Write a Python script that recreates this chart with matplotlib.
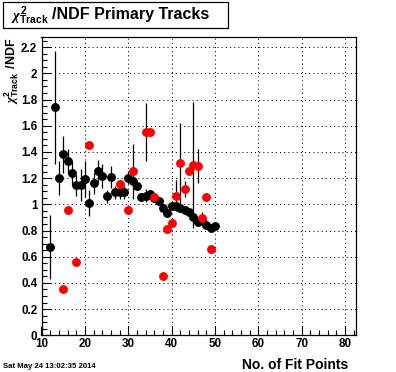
import matplotlib
matplotlib.use('Agg')
import matplotlib.pyplot as plt
from matplotlib.patches import Rectangle
from matplotlib.ticker import MultipleLocator, FuncFormatter

plt.rcParams['font.family'] = ['Liberation Sans', 'DejaVu Sans']
plt.rcParams['font.weight'] = 'bold'
plt.rcParams['mathtext.fontset'] = 'custom'
plt.rcParams['mathtext.rm'] = 'Liberation Sans:bold'
plt.rcParams['mathtext.bf'] = 'Liberation Sans:bold'
plt.rcParams['mathtext.it'] = 'Liberation Serif:italic'

# black series (all tracks)
x_blk = [12, 13, 14, 15, 16, 17, 18, 19, 20, 21, 22, 23, 24, 25, 26, 27, 28, 29, 30,
         31, 32, 33, 34, 35, 36, 37, 38, 39, 40, 41, 42, 43, 44, 45, 46, 47, 48, 49, 50]
y_blk = [0.672, 1.740, 1.203, 1.381, 1.331, 1.241, 1.147, 1.147, 1.193, 1.008, 1.160,
         1.257, 1.218, 1.063, 1.211, 1.093, 1.093, 1.093, 1.203, 1.180, 1.140, 1.058,
         1.065, 1.078, 1.050, 1.025, 0.969, 0.936, 0.987, 0.990, 0.969, 0.957, 0.945,
         0.906, 0.867, 0.870, 0.842, 0.817, 0.834]
e_blk = [0.245, 0.43, 0.13, 0.14, 0.09, 0.09, 0.08, 0.12, 0.14, 0.10, 0.08, 0.085, 0.09,
         0.05, 0.085, 0.05, 0.05, 0.05, 0.05, 0.04, 0.03, 0.03, 0.05, 0.03, 0.02, 0.02,
         0.02, 0.02, 0.02, 0.02, 0.02, 0.02, 0.02, 0.02, 0.02, 0.02, 0.02, 0.02, 0.02]

# red series
x_red = [15, 16, 18, 21, 28, 30, 31, 34, 35, 36, 38, 39, 40, 41, 42, 43, 44, 45, 46, 47, 48, 49]
y_red = [0.351, 0.954, 0.557, 1.450, 1.155, 0.954, 1.254, 1.550, 1.550, 1.053, 0.453,
         0.814, 0.860, 1.066, 1.313, 1.117, 1.252, 1.300, 1.292, 0.898, 1.058, 0.656]
e_red = [0.02, 0.02, 0.02, 0.02, 0.03, 0.02, 0.21, 0.22, 0.02, 0.02, 0.02, 0.03, 0.03,
         0.12, 0.31, 0.06, 0.03, 0.48, 0.13, 0.04, 0.03, 0.02]

W, H = 396, 372


def fx(px):
    return px / W


def fy(py):
    return 1 - py / H


fig = plt.figure(figsize=(W / 100, H / 100), dpi=100)
ax = fig.add_axes([fx(41.5), fy(335.3), (356 - 41.5) / W, (335.3 - 36.7) / H])

ax.errorbar(x_blk, y_blk, yerr=e_blk, fmt='o', color='black', ecolor='black',
            elinewidth=0.9, capsize=0, ms=6.4, mew=0, zorder=3)
ax.errorbar(x_red, y_red, yerr=e_red, fmt='o', color='#ff0000', ecolor='black',
            elinewidth=0.9, capsize=0, ms=6.4, mew=0, zorder=4)

ax.set_xlim(10, 82.5)
ax.set_ylim(0, 2.28)
ax.xaxis.set_major_locator(MultipleLocator(10))
ax.xaxis.set_minor_locator(MultipleLocator(2))
ax.yaxis.set_major_locator(MultipleLocator(0.2))
ax.yaxis.set_minor_locator(MultipleLocator(0.05))
ax.yaxis.set_major_formatter(FuncFormatter(lambda v, p: '%g' % round(v, 2)))
ax.grid(True, which='major', color='black', lw=0.75, ls=(0, (1, 3)))
ax.set_axisbelow(True)

ax.tick_params(which='both', direction='in', top=False, right=False, width=0.8,
               labelsize=8.4)
ax.tick_params(which='major', length=6.5)
ax.tick_params(which='minor', length=3.3)
ax.tick_params(axis='y', pad=3)
ax.tick_params(axis='x', pad=2)
for sp in ax.spines.values():
    sp.set_linewidth(0.9)
for lab in ax.get_xticklabels() + ax.get_yticklabels():
    lab.set_fontweight('bold')

# axis titles
fig.text(fx(12), fy(37), r'$\chi^{2}_{\mathrm{Track}}\,$ /NDF', rotation=90,
         ha='center', va='top', fontsize=9, fontweight='bold')
fig.text(fx(348), fy(365), 'No. of Fit Points', ha='right', va='center',
         fontsize=10, fontweight='bold')
fig.text(fx(3), fy(366), 'Sat May 24 13:02:35 2014', ha='left', va='center',
         fontsize=5.6)

# title box
fig.patches.append(Rectangle((fx(3), fy(28)), fx(228) - fx(3), fy(2) - fy(28),
                             transform=fig.transFigure, facecolor='white',
                             edgecolor='black', lw=0.9))
fig.text(fx(11), fy(16), r'$\chi^{2}_{\mathrm{Track}}$', ha='left', va='center',
         fontsize=10.5)
fig.text(fx(52), fy(15), '/NDF Primary Tracks', ha='left', va='center',
         fontsize=11.5, fontweight='bold')

fig.savefig('out.png', dpi=100, facecolor='white')
